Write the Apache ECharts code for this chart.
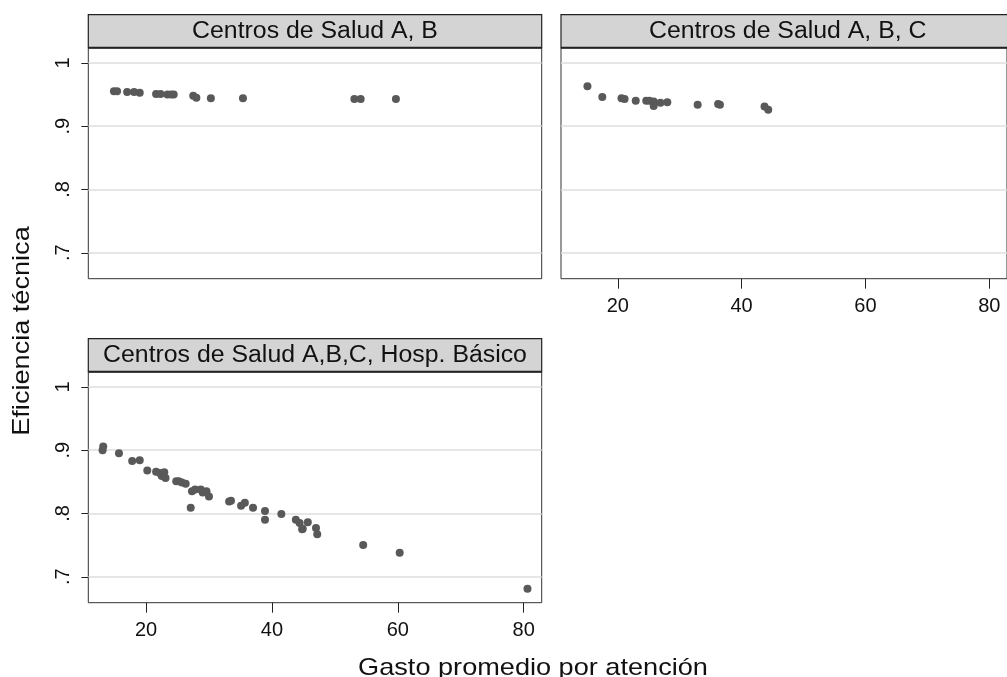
<!DOCTYPE html>
<html>
<head>
<meta charset="utf-8">
<script src="https://cdn.jsdelivr.net/npm/echarts@6/dist/echarts.min.js"></script>
<style>
html,body{margin:0;padding:0;background:#fff;}
#chart{width:1007px;height:677px;}
</style>
</head>
<body>
<div id="chart"></div>
<script>
// ---- Data ----
const panelTitles = ["Centros de Salud A, B", "Centros de Salud A, B, C", "Centros de Salud A,B,C, Hosp. Básico"];
const xTicks = [20, 40, 60, 80];
const yTicks = [0.7, 0.8, 0.9, 1];
const xTitle = "Gasto promedio por atención";
const yTitle = "Eficiencia técnica";

const p1x = [14.9, 15.4, 17.0, 18.1, 19.0, 21.6, 22.3, 23.4, 24.0, 24.4, 27.5, 28.0, 30.3, 35.4, 53.1, 54.1, 59.7];
const p1y = [0.955, 0.955, 0.954, 0.954, 0.953, 0.951, 0.951, 0.950, 0.950, 0.950, 0.948, 0.945, 0.944, 0.944, 0.943, 0.943, 0.943];

const p2x = [15.1, 17.5, 20.6, 21.1, 22.9, 24.6, 25.1, 25.8, 25.8, 26.9, 28.0, 32.9, 36.2, 36.5, 43.7, 44.3];
const p2y = [0.963, 0.946, 0.944, 0.943, 0.940, 0.940, 0.940, 0.939, 0.932, 0.937, 0.938, 0.934, 0.935, 0.934, 0.931, 0.926];

const p3x = [13.2, 13.1, 15.7, 17.8, 19.0, 20.2, 21.6, 22.2, 22.9, 22.5, 23.1, 24.8, 25.2, 25.7, 26.3, 27.1, 27.3, 27.8, 28.7, 29.0, 29.6, 30.0, 33.2, 33.5, 35.1, 35.7, 37.0, 38.9, 38.9, 41.5, 43.8, 44.4, 44.8, 44.9, 45.7, 47.0, 47.2, 54.5, 60.3, 80.6];
const p3y = [0.906, 0.900, 0.895, 0.883, 0.884, 0.868, 0.866, 0.864, 0.865, 0.859, 0.856, 0.851, 0.851, 0.849, 0.847, 0.809, 0.835, 0.838, 0.838, 0.833, 0.835, 0.827, 0.819, 0.820, 0.812, 0.817, 0.809, 0.804, 0.790, 0.799, 0.790, 0.785, 0.775, 0.776, 0.786, 0.777, 0.767, 0.750, 0.738, 0.681];

// ---- Layout ----
const FONT = "'Liberation Sans', Arial, sans-serif";
const xMin = 10.83, xMax = 82.86;
const yMin = 0.659, yMax = 1.024;
const grids = [
  {left: 88.3, top: 47.7, width: 453.4, height: 231},
  {left: 561, top: 47.7, width: 453.4, height: 231},
  {left: 88.3, top: 371.7, width: 453.4, height: 231}
];
const headerH = 33;
const showX = [false, true, true];
const showY = [true, false, true];

function fmtY(v) {
  if (Math.abs(v - 1) < 1e-9) return "1";
  return "." + Math.round(v * 10);
}

const xAxes = [], yAxes = [], series = [], gridOpts = [], graphics = [];
const datas = [[p1x, p1y], [p2x, p2y], [p3x, p3y]];

grids.forEach((g, i) => {
  gridOpts.push(Object.assign({show: true, borderColor: '#333', borderWidth: 1, backgroundColor: '#fff', containLabel: false}, g));
  xAxes.push({
    type: 'value', gridIndex: i, min: xMin, max: xMax,
    axisLine: {show: false},
    axisTick: {show: showX[i], customValues: xTicks, length: 10, lineStyle: {color: '#222', width: 1}},
    axisLabel: {show: showX[i], customValues: xTicks, margin: 18, fontSize: 20, color: '#111', fontFamily: FONT},
    splitLine: {show: false}
  });
  yAxes.push({
    type: 'value', gridIndex: i, min: yMin, max: yMax,
    axisLine: {show: false},
    axisTick: {show: true, customValues: yTicks, length: showY[i] ? 7 : 0, lineStyle: {color: showY[i] ? '#222' : 'transparent', width: 1}},
    axisLabel: {show: showY[i], customValues: yTicks, rotate: 90, margin: 15, fontSize: 20, color: '#111', fontFamily: FONT, formatter: fmtY},
    splitLine: {show: true, lineStyle: {color: '#dedede', width: 1.6}}
  });
  series.push({
    type: 'scatter', xAxisIndex: i, yAxisIndex: i,
    symbol: 'circle', symbolSize: 8,
    itemStyle: {color: '#595959', opacity: 1},
    data: datas[i][0].map((x, k) => [x, datas[i][1][k]]),
    z: 5
  });
  // header strip
  graphics.push({
    type: 'rect', silent: true,
    shape: {x: g.left, y: g.top - headerH, width: g.width, height: headerH},
    style: {fill: '#d4d4d4', stroke: '#222', lineWidth: 1.2}, z: 10
  });
  graphics.push({
    type: 'line', silent: true,
    shape: {x1: g.left, y1: g.top, x2: g.left + g.width, y2: g.top},
    style: {stroke: '#222', lineWidth: 2}, z: 11
  });
  graphics.push({
    type: 'text', silent: true,
    x: g.left + g.width / 2, y: g.top - headerH / 2 + 0.5, scaleX: 1.08,
    style: {text: panelTitles[i], fill: '#111', font: '23px ' + FONT, align: 'center', verticalAlign: 'middle'}, z: 12
  });
});

graphics.push({
  type: 'text', silent: true, x: 533, y: 668, scaleX: 1.13,
  style: {text: xTitle, fill: '#111', font: '24px ' + FONT, align: 'center', verticalAlign: 'middle'}
});
graphics.push({
  type: 'text', silent: true, x: 22, y: 331, rotation: Math.PI / 2, scaleX: 1.13,
  style: {text: yTitle, fill: '#111', font: '24px ' + FONT, align: 'center', verticalAlign: 'middle'}
});

const chart = echarts.init(document.getElementById('chart'), null, {renderer: 'canvas'});
chart.setOption({
  animation: false,
  backgroundColor: '#fff',
  grid: gridOpts,
  xAxis: xAxes,
  yAxis: yAxes,
  series: series,
  graphic: graphics
});
</script>
</body>
</html>
